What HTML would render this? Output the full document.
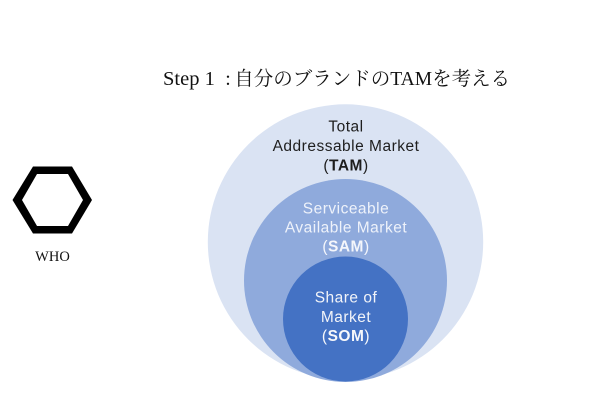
<!DOCTYPE html>
<html>
<head>
<meta charset="utf-8">
<style>
  html,body{margin:0;padding:0;background:#ffffff;}
  body{width:600px;height:400px;overflow:hidden;}
  svg{display:block;}
</style>
</head>
<body>
<svg width="600" height="400" viewBox="0 0 600 400" xmlns="http://www.w3.org/2000/svg">
  <rect width="600" height="400" fill="#ffffff"/>

  <!-- Title -->
  <g font-family="'Liberation Serif','Noto Serif CJK SC',serif" fill="#111">
    <text x="163" y="85" font-size="20.5">Step 1</text>
    <text x="228" y="85" font-size="19.8" text-anchor="middle" font-family="'Liberation Serif',serif">:</text>
    <text x="234.3" y="85" font-size="19.5">自分のブランドのTAMを考える</text>
  </g>

  <!-- Hexagon -->
  <polygon points="12.5,200 33,166.5 72,166.5 92,200 72,233.5 33,233.5" fill="#000"/>
  <polygon points="22,200 37,174 68,174 83,200 68,226 37,226" fill="#fff"/>
  <text x="52.5" y="261" text-anchor="middle" font-family="'Liberation Serif',serif" font-size="14.5" fill="#111">WHO</text>

  <!-- Circles -->
  <circle cx="345.5" cy="242" r="137.7" fill="#DAE3F3"/>
  <circle cx="345.5" cy="280.5" r="101.5" fill="#8FAADC"/>
  <circle cx="345.5" cy="319" r="62.5" fill="#4472C4"/>

  <!-- Labels -->
  <g font-family="'Liberation Sans',sans-serif" font-size="15.5" letter-spacing="0.5" text-anchor="middle">
    <text x="346" y="131.7" fill="#1e1e1e">Total</text>
    <text x="346" y="151" fill="#1e1e1e">Addressable Market</text>
    <text x="346" y="170.5" fill="#1e1e1e">(<tspan font-weight="bold">TAM</tspan>)</text>

    <text x="346" y="213.3" fill="#EEF2FA">Serviceable</text>
    <text x="346" y="232.7" fill="#EEF2FA">Available Market</text>
    <text x="346" y="251.7" fill="#F4F6FB">(<tspan font-weight="bold">SAM</tspan>)</text>

    <text x="346" y="302.7" fill="#F2F4F9">Share of</text>
    <text x="346" y="321.9" fill="#F2F4F9">Market</text>
    <text x="346" y="341" fill="#F7F8FB">(<tspan font-weight="bold">SOM</tspan>)</text>
  </g>
</svg>
</body>
</html>
